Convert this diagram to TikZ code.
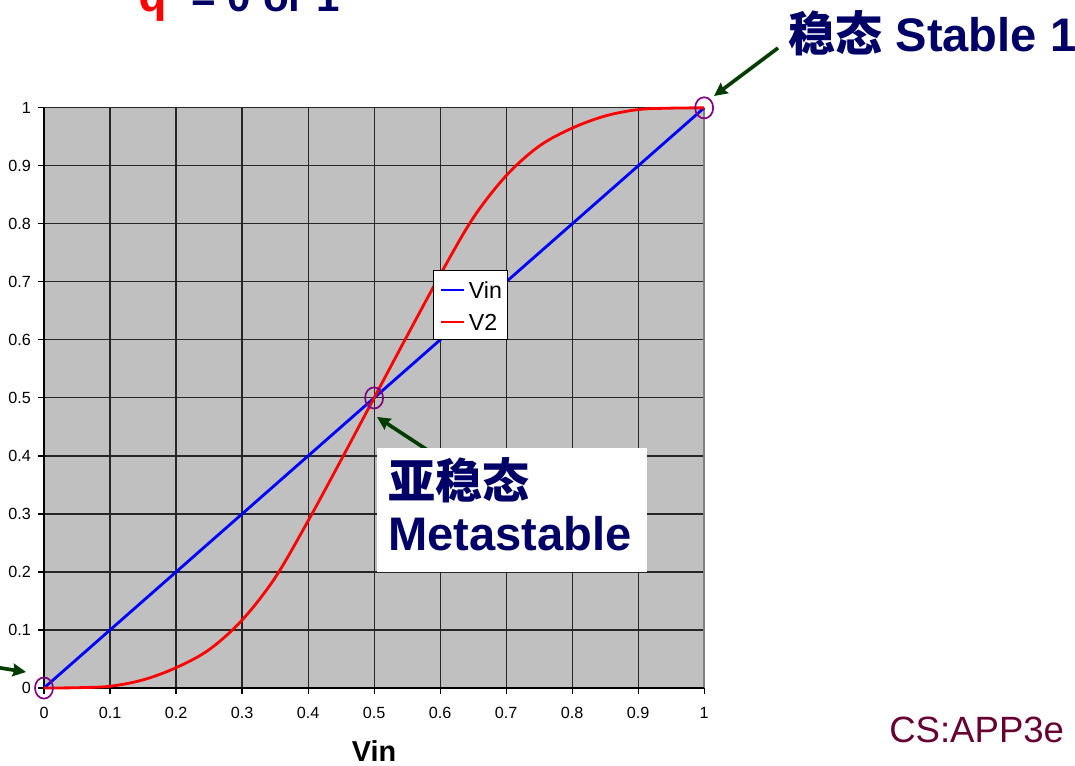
\documentclass[tikz,border=0pt]{standalone}
\usepackage{fontspec}
\setmainfont{Liberation Sans}
\newfontfamily\cjkfont{Noto Sans CJK SC}
\newfontfamily\codefont{Liberation Mono}
\usetikzlibrary{positioning, arrows.meta, shapes.geometric}
\definecolor{navytext}{RGB}{0,0,102}
\definecolor{plotgray}{RGB}{192,192,192}
\definecolor{framegray}{RGB}{128,128,128}
\definecolor{arrowgreen}{RGB}{0,60,0}
\definecolor{ringpurple}{RGB}{128,0,128}
\definecolor{brandred}{RGB}{102,0,51}
\tikzset{
>={Stealth[length=0.33cm, width=0.32cm, inset=0.04cm]}, % makes the arrow heads bold
headline/.style={inner sep=0, text=navytext, font=\fontsize{33.5}{38}\selectfont\bfseries}, % big slide text
callout/.style={->, line width=2.6pt, arrowgreen}, % arrows that point at the states
ring/.style={ellipse, draw=ringpurple, line width=1.2pt, minimum width=0.45cm, minimum height=0.53cm, inner sep=0}, % marks a state
gridline/.style={line width=0.8pt, black!85},
ticklabel/.style={inner sep=0, font=\fontsize{11.5}{13}\selectfont},
legendtext/.style={inner sep=2.5pt, text=black, font=\fontsize{16.5}{18}\selectfont},
vinline/.style={line width=2pt, blue},
vtwoline/.style={line width=2pt, red, line join=round},
}
\begin{document}
\begin{tikzpicture}[x=0.025cm, y=-0.025cm]
\useasboundingbox (0,0) rectangle (1075,766);
\clip (0,0) rectangle (1075,766);

% headline, cut by the top of the slide
\node[inner sep=0, anchor=base west, text=red, font=\fontsize{34}{40}\selectfont\codefont\bfseries] (qvar) at (138,12) {q};
\node[headline, font=\fontsize{30}{36}\selectfont\bfseries, base right=0.6cm of qvar] (qvalues) {= 0 or 1};

% the chart
\begin{scope}[shift={(44,688)}, x=16.5cm, y=14.5cm]
  \fill[plotgray] (0,0) rectangle (1,1);
  \foreach \i in {1,...,10} {
    \draw[gridline] (\i/10,0) -- (\i/10,1);
    \draw[gridline] (0,\i/10) -- (1,\i/10);
  }
  \draw[framegray, line width=1.2pt] (1,0) -- (1,1);
  \draw[black, line width=0.8pt] (0,1) -- (0,0) -- (1,0);
  \foreach \i/\t in {0/0, 1/0.1, 2/0.2, 3/0.3, 4/0.4, 5/0.5, 6/0.6, 7/0.7, 8/0.8, 9/0.9, 10/1} {
    \draw[black, line width=0.8pt] (0,\i/10) -- ++(-0.15cm,0);
    \draw[black, line width=0.8pt] (\i/10,0) -- ++(0,-0.15cm);
    \node[ticklabel, anchor=east, xshift=-0.32cm] (ylab\i) at (0,\i/10) {\t};
    \node[ticklabel, anchor=base, yshift=-0.75cm] (xlab\i) at (\i/10,0) {\t};
  }
  \draw[vinline] (0,0) -- (1,1);
  \draw[vtwoline] plot[smooth, tension=0.55] coordinates {
    (0,0) (0.05,0.0005) (0.1,0.003) (0.15,0.014) (0.2,0.035) (0.25,0.066)
    (0.3,0.117) (0.35,0.19) (0.4,0.288) (0.45,0.393) (0.5,0.5)
    (0.55,0.607) (0.6,0.712) (0.65,0.81) (0.7,0.883) (0.75,0.934)
    (0.8,0.965) (0.85,0.986) (0.9,0.997) (0.95,0.9995) (1,1)};
  \node[ring] (stablezero) at (0,0) {};
  \node[ring] (metastable) at (0.5,0.5) {};
  \node[ring] (stableone) at (1,1) {};
\end{scope}

% legend
\node[draw, fill=white, line width=0.6pt, anchor=north west, minimum width=1.85cm, minimum height=1.725cm] (legend) at (433,270) {};
\draw[vinline] ([xshift=0.2cm, yshift=-0.5cm]legend.north west) -- ++(0.575cm,0) node[legendtext, right] (vinkey) {Vin};
\draw[vtwoline] ([xshift=0.2cm, yshift=-1.3cm]legend.north west) -- ++(0.575cm,0) node[legendtext, right] (vtwokey) {V2};

% call-outs
\coordinate (metatail) at (432,453);
\coordinate (metatip) at (377,417);
\draw[callout] (metatail) -- (metatip);
\fill[white] (377,448) rectangle (647,572);
\node[headline, anchor=north west, align=left, font=\fontsize{33.5}{37}\selectfont\bfseries] (metabox) at (388,457) {{\cjkfont 亚稳态}\\Metastable};

\node[headline, anchor=base west] (stablelabel) at (788,52) {{\cjkfont 稳态} Stable 1};
\coordinate (stabletail) at (778,48);
\coordinate (stabletip) at (714,96);
\draw[callout] (stabletail) -- (stabletip);

\coordinate (zerotail) at (-12,666);
\coordinate (zerotip) at (26,672);
\draw[callout] (zerotail) -- (zerotip);

% axis title and brand
\node[inner sep=0, anchor=base, font=\fontsize{20.5}{24}\selectfont\bfseries] (xtitle) at (374,761) {Vin};
\node[inner sep=0, anchor=base west, text=brandred, font=\fontsize{26}{30}\selectfont] (brand) at (889,742) {CS:APP3e};
\end{tikzpicture}
\end{document}
